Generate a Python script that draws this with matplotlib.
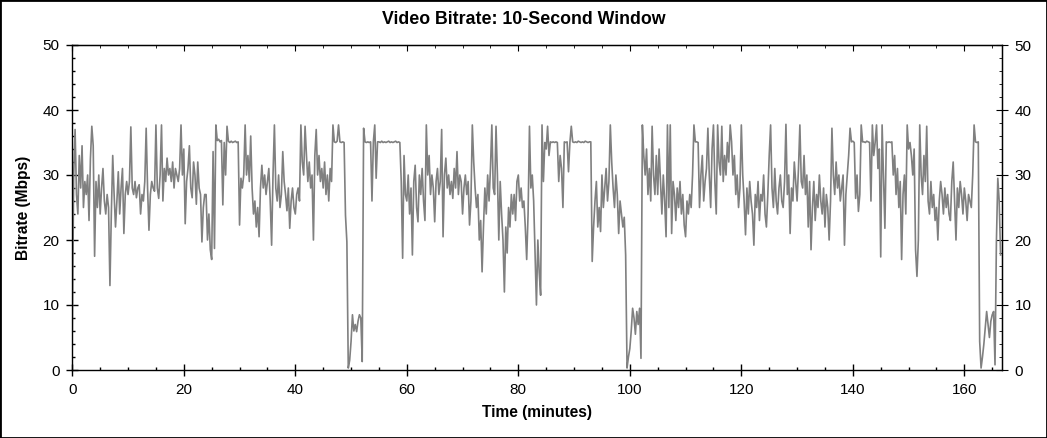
import matplotlib
matplotlib.use("Agg")
from matplotlib import pyplot as plt
from matplotlib.ticker import MultipleLocator
from matplotlib.patches import Rectangle
import numpy as np

# samples, four per minute (one row = one minute)
STEP = 0.25
bitrate = [
    6, 30, 37, 27,
    24, 33, 28, 34.5,
    25, 29, 27, 30,
    23, 32.5, 37.5, 34.5,
    17.5, 29, 25, 30,
    24, 28, 31, 26,
    24, 27, 25, 13,
    24, 33, 27, 22,
    26, 30.5, 24, 28,
    31, 21, 27, 29,
    27, 29, 37.4, 28,  # 10
    27, 29, 26.5, 28,
    28.5, 24, 27, 26,
    29, 37.2, 28, 21.5,
    27, 29, 28, 27.5,
    37.7, 28, 26.4, 30,
    37.7, 26, 31, 29,
    32.6, 30, 31, 29,
    32, 28, 31, 30,
    29, 31, 37.7, 30,
    34, 22.5, 29, 31,  # 20
    34.5, 28, 26.5, 32,
    30, 25.5, 32, 28,
    27, 19.7, 25, 27,
    27, 20, 24, 18.5,
    17, 33.6, 18.7, 37.7,
    35.3, 35.5, 35.1, 35.3,
    25.4, 35, 30, 37.5,
    35.2, 35.0, 35.2, 35.0,
    35.1, 35.2, 35.0, 35.1,
    22.3, 29.5, 28, 30,  # 30
    37.7, 30, 33, 29,
    36, 28, 24, 26,
    22, 25, 20.5, 28,
    31.5, 28, 30, 27,
    29, 31, 26, 19.2,
    30, 37.7, 28, 26,
    30, 25, 27, 33.6,
    29, 27, 24.5, 28,
    21.8, 26, 28, 25,
    24, 27, 28, 26,  # 40
    37.7, 32, 30, 37.5,
    33, 29, 32, 28,
    30, 20, 33, 37,
    30, 33, 29, 31,
    28, 32, 27, 30,
    26, 31, 29, 37.7,
    35.1, 35.0, 35.2, 37.7,
    35.1, 35.0, 35.1, 35.0,
    23.8, 19.7, 0.3, 1.5,
    4.4, 8.5, 6, 7,  # 50
    5.9, 7.5, 8.5, 8,
    1.3, 37.2, 35.1, 35.0,
    35.1, 35.0, 35.1, 26,
    35.1, 37.7, 29.5, 35.1,
    35.1, 35.0, 35.2, 35.0,
    35.1, 35.0, 35.1, 35.2,
    35.0, 35.1, 35.0, 35.1,
    35.2, 35.0, 35.1, 35.0,
    29, 17.2, 33, 27,
    26, 30, 24, 28,  # 60
    17.7, 29, 31.5, 25,
    22.8, 30, 27, 31,
    26, 23, 37.7, 30,
    33, 27, 30, 28,
    22.8, 29, 31, 27,
    29, 37, 20.5, 30,
    32.6, 28, 30, 27,
    29, 26.4, 31, 28,
    33.6, 27, 30, 29,
    24, 28, 30, 27,  # 70
    29, 22.3, 26, 37.7,
    32, 28, 25, 27,
    20, 23, 15.1, 22,
    28, 24, 30, 26,
    31, 37.7, 28, 27,
    37.5, 30, 20, 29,
    24, 20, 12, 22,
    18, 25, 22, 27,
    24, 27, 23, 29,
    30, 26, 28, 25,  # 80
    26, 22, 17, 24,
    37.5, 28, 30, 26,
    18, 10, 20, 15,
    11.5, 37.7, 29, 35,
    34, 37.5, 33, 35.1,
    35.0, 35.1, 35.0, 35.1,
    35, 29, 33, 31,
    25, 35.1, 35.0, 35.1,
    30.5, 35, 37.5, 35.1,
    35.0, 35.1, 35.0, 35.2,  # 90
    35.1, 35.0, 35.1, 35.0,
    35.2, 35.1, 35.0, 35.1,
    35.1, 16.7, 22, 26,
    29, 22, 25, 21.3,
    30, 25, 28, 31,
    26, 29, 37.7, 32,
    28, 25, 30, 27,
    21, 26, 24, 22,
    23.5, 17.7, 0.3, 2,
    3.3, 6, 9.5, 8,  # 100
    5.5, 9, 7, 9.5,
    1.8, 37.7, 33, 30,
    34, 27, 31, 26,
    37.5, 30, 27, 33,
    27, 34, 29, 24,
    30, 26, 20.5, 37.7,
    25, 37.7, 21, 29,
    27, 23, 28, 25,
    29, 24, 27, 22.3,
    20.5, 26, 24, 27,  # 110
    25, 30, 37.7, 35.1,
    35.1, 35.0, 25, 30,
    33, 26, 29, 31,
    37.2, 30, 25, 34,
    37.7, 29, 24, 37.7,
    32, 30, 37.5, 29,
    33, 30, 35, 32,
    37.7, 35.1, 30, 33,
    27, 30, 25, 28,
    37.7, 30, 26, 20.8,  # 120
    28, 24, 29, 26,
    24, 19.2, 27, 25,
    29, 23, 27, 26,
    30, 24, 22, 27,
    33, 37.7, 28, 25,
    31, 26, 24, 28,
    30, 26, 25, 29,
    37.8, 27, 30, 21,
    28, 26, 32, 29,
    26, 31, 37.7, 29,  # 130
    28, 33, 27, 30,
    22, 29, 18.5, 25,
    29, 23, 27, 25,
    30, 26, 24, 28,
    22, 27, 25, 20,
    26, 37.2, 30, 27,
    32, 28, 30, 26,
    28, 30, 19.2, 27,
    30, 33, 37.2, 35.1,
    35.2, 35.0, 26.4, 30,  # 140
    24.4, 27, 37.7, 35.1,
    35.1, 35.0, 35.2, 35.1,
    35.0, 26, 37.7, 33,
    35, 37.7, 31, 34,
    17.4, 37.7, 30, 21.8,
    35.1, 35.0, 35.1, 35.0,
    35.1, 30, 33, 27,
    31, 25, 29, 17,
    27, 30, 24, 37.7,
    34, 35, 33, 30,  # 150
    34, 18.5, 14.4, 20,
    37.7, 30, 27, 33,
    29, 37.5, 26, 24,
    29, 25, 27, 23,
    25, 20, 26, 29,
    27, 24, 28, 25,
    27, 24, 23, 29,
    32, 26, 20, 28,
    25, 29, 27, 24,
    28, 26, 23, 27,  # 160
    26, 25, 30, 37.7,
    35.1, 35.0, 35.1, 4.4,
    0.3, 2, 4, 6.5,
    9, 7, 5, 7.5,
    8.5, 9, 0.8, 19.7,
    29.5, 26, 17.7,
]
minutes = np.arange(len(bitrate)) * STEP

x_ticks = [0, 20, 40, 60, 80, 100, 120, 140, 160]
y_ticks = [0, 10, 20, 30, 40, 50]

plt.rcParams['font.family'] = ['Liberation Sans', 'DejaVu Sans']

W, H = 1047, 438
fig = plt.figure(figsize=(W / 100, H / 100), dpi=100)
ax = fig.add_axes([72.3 / W, 1 - 370 / H, (1001.7 - 72.3) / W, 325 / H])

ax.plot(minutes, bitrate, color='#808080', lw=1.2)

ax.set_xlim(0, 166.7)
ax.set_ylim(0, 50)
ax.set_xticks(x_ticks)
ax.set_yticks(y_ticks)
ax.xaxis.set_minor_locator(MultipleLocator(5))
ax.yaxis.set_minor_locator(MultipleLocator(2))
ax.tick_params(which='major', direction='inout', length=8.5, width=1,
               labelsize=11, pad=5)
ax.tick_params(which='minor', direction='in', length=2.5, width=1)
for s in ax.spines.values():
    s.set_linewidth(1)

# top: inward ticks only, right: ticks plus labels
top = ax.secondary_xaxis('top')
top.set_xticks(x_ticks)
top.xaxis.set_minor_locator(MultipleLocator(5))
top.tick_params(which='major', direction='in', length=4.3, labeltop=False)
top.tick_params(which='minor', direction='in', length=2.5)

right = ax.secondary_yaxis('right')
right.set_yticks(y_ticks)
right.yaxis.set_minor_locator(MultipleLocator(2))
right.tick_params(which='major', direction='inout', length=8.5, labelsize=11, pad=5)
right.tick_params(which='minor', direction='in', length=2.5)

ax.set_xlabel("Time (minutes)", fontsize=11.2, fontweight='bold', labelpad=6)
ax.set_ylabel("Bitrate (Mbps)", fontsize=11.2, fontweight='bold', labelpad=8)
fig.text(0.5, 1 - 20 / H, "Video Bitrate: 10-Second Window", fontsize=12.8,
         fontweight='bold', ha='center', va='center')

fig.add_artist(Rectangle((0, 0), 1, 1, transform=fig.transFigure,
                         fill=False, edgecolor='black', lw=2))

fig.savefig('out.png', dpi=100)
